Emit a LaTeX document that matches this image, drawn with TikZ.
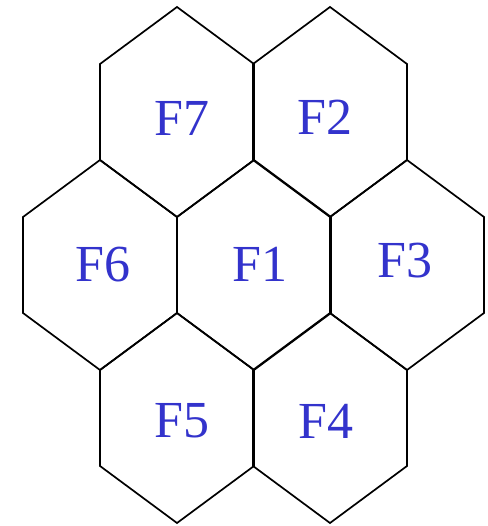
\documentclass[tikz,border=0pt]{standalone}
\usepackage{xcolor}
\usepackage{fontspec}
\setmainfont{Liberation Serif}
\usepackage{tikz}
\usetikzlibrary{calc}
\definecolor{cellblue}{RGB}{51,51,204}
\tikzset{
  cell/.style={draw=black, line width=1.7pt, line join=miter},
  celllabel/.style={font=\fontsize{52}{52}\selectfont, text=cellblue,
    inner sep=0pt, anchor=center}
}

\begin{document}
\begin{tikzpicture}[x=1pt, y=-1pt]
  \useasboundingbox (0,0) rectangle (487,526);
  % Hexagonal cells (centre x / centre y)
  \foreach \cx/\cy in {254/265, 330/112, 407/265, 330/418, 177/418, 100/265, 177/112} {
    \draw[cell] (\cx,\cy-105) -- (\cx+77,\cy-48) -- (\cx+77,\cy+48)
      -- (\cx,\cy+105) -- (\cx-77,\cy+48) -- (\cx-77,\cy-48) -- cycle;
  }
  % Cell labels
  \node[celllabel] (f1) at (260,264) {F1};
  \node[celllabel] (f2) at (325,117) {F2};
  \node[celllabel] (f3) at (405,261) {F3};
  \node[celllabel] (f4) at (326,421) {F4};
  \node[celllabel] (f5) at (182,421) {F5};
  \node[celllabel] (f6) at (103,265) {F6};
  \node[celllabel] (f7) at (182,118) {F7};
\end{tikzpicture}
\end{document}
